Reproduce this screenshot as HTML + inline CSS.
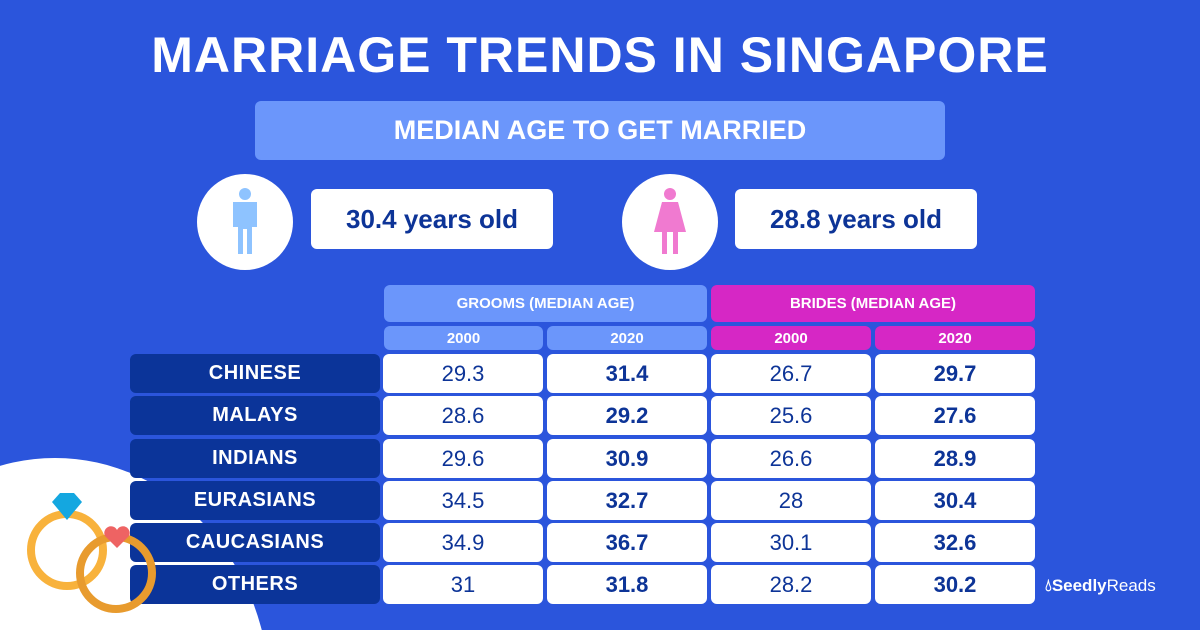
<!DOCTYPE html><html><head><style>
html,body{margin:0;width:1200px;height:630px;overflow:hidden}
#c{position:relative;width:1200px;height:630px;background:#2b55dc;overflow:hidden;font-family:"Liberation Sans",sans-serif;}
.a{position:absolute;box-sizing:border-box;display:flex;align-items:center;justify-content:center}
.t{left:0;width:1200px;top:20px;height:70px;color:#fff;font-size:50px;font-weight:bold;letter-spacing:1px}
.sub{left:255px;top:101px;width:690px;height:59px;background:#6b96fb;border-radius:6px;color:#fff;font-size:27px;font-weight:bold}
.circ{background:#fff;border-radius:50%}
.yb{background:#fff;border-radius:6px;color:#0d3497;font-size:26px;font-weight:bold}
.h{border-radius:6px;color:#fff;font-size:15px;font-weight:bold}
.lab{left:130px;width:250px;height:39px;background:#0b3499;border-radius:6px;color:#fff;font-size:20px;font-weight:bold;letter-spacing:.5px}
.cell{width:160px;height:39px;background:#fff;border-radius:6px;color:#0d3497;font-size:22px}
.b{font-weight:bold}
</style></head><body><div id="c">
<svg style="position:absolute;left:0;top:450px" width="300" height="180"><ellipse cx="55" cy="245" rx="215" ry="237" fill="#fff"/></svg>
<div class="a t">MARRIAGE TRENDS IN SINGAPORE</div>
<div class="a sub">MEDIAN AGE TO GET MARRIED</div>
<div class="a circ" style="left:197px;top:174px;width:96px;height:96px">
<svg width="40" height="70" viewBox="0 0 40 70"><circle cx="20" cy="7" r="6" fill="#8ec3ff"/><path d="M8 15h24v25h-5v27h-5V42h-4v25h-5V40H8z" fill="#8ec3ff"/></svg></div>
<div class="a yb" style="left:311px;top:189px;width:242px;height:60px">30.4 years old</div>
<div class="a circ" style="left:622px;top:174px;width:96px;height:96px">
<svg width="40" height="70" viewBox="0 0 40 70"><circle cx="20" cy="7" r="6" fill="#f07ad0"/><path d="M12 15h16l8 30H28v22h-5V45h-6v22h-5V45H4z" fill="#f07ad0"/></svg></div>
<div class="a yb" style="left:735px;top:189px;width:242px;height:60px">28.8 years old</div>
<div class="a h" style="left:384px;top:285px;width:323px;height:37px;background:#6b96fb">GROOMS (MEDIAN AGE)</div>
<div class="a h" style="left:711px;top:285px;width:324px;height:37px;background:#d627c5">BRIDES (MEDIAN AGE)</div>
<div class="a h" style="left:384px;top:326px;width:159px;height:24px;background:#6b96fb">2000</div>
<div class="a h" style="left:547px;top:326px;width:160px;height:24px;background:#6b96fb">2020</div>
<div class="a h" style="left:711px;top:326px;width:160px;height:24px;background:#d627c5">2000</div>
<div class="a h" style="left:875px;top:326px;width:160px;height:24px;background:#d627c5">2020</div>
<div class="a lab" style="top:354px">CHINESE</div>
<div class="a cell" style="left:383px;top:354px">29.3</div><div class="a cell b" style="left:547px;top:354px">31.4</div><div class="a cell" style="left:711px;top:354px">26.7</div><div class="a cell b" style="left:875px;top:354px">29.7</div>
<div class="a lab" style="top:396px">MALAYS</div>
<div class="a cell" style="left:383px;top:396px">28.6</div><div class="a cell b" style="left:547px;top:396px">29.2</div><div class="a cell" style="left:711px;top:396px">25.6</div><div class="a cell b" style="left:875px;top:396px">27.6</div>
<div class="a lab" style="top:439px">INDIANS</div>
<div class="a cell" style="left:383px;top:439px">29.6</div><div class="a cell b" style="left:547px;top:439px">30.9</div><div class="a cell" style="left:711px;top:439px">26.6</div><div class="a cell b" style="left:875px;top:439px">28.9</div>
<div class="a lab" style="top:481px">EURASIANS</div>
<div class="a cell" style="left:383px;top:481px">34.5</div><div class="a cell b" style="left:547px;top:481px">32.7</div><div class="a cell" style="left:711px;top:481px">28</div><div class="a cell b" style="left:875px;top:481px">30.4</div>
<div class="a lab" style="top:523px">CAUCASIANS</div>
<div class="a cell" style="left:383px;top:523px">34.9</div><div class="a cell b" style="left:547px;top:523px">36.7</div><div class="a cell" style="left:711px;top:523px">30.1</div><div class="a cell b" style="left:875px;top:523px">32.6</div>
<div class="a lab" style="top:565px">OTHERS</div>
<div class="a cell" style="left:383px;top:565px">31</div><div class="a cell b" style="left:547px;top:565px">31.8</div><div class="a cell" style="left:711px;top:565px">28.2</div><div class="a cell b" style="left:875px;top:565px">30.2</div>
<svg style="position:absolute;left:20px;top:490px" width="140" height="130">
<circle cx="47" cy="60" r="36" fill="none" stroke="#f8b23c" stroke-width="8"/>
<circle cx="96" cy="83" r="36" fill="none" stroke="#e89b2e" stroke-width="8"/>
<polygon points="40,3 54,3 62,12 47,30 32,12" fill="#14a7e0"/>
<path d="M97 58l-12-12a6 6 0 0 1 12-6a6 6 0 0 1 12 6z" fill="#ee6363"/>
</svg>
<div style="position:absolute;left:1045px;top:576px;color:#fff;font-size:17px;font-weight:bold">&#x1F4A7;&#xFE0E;<span style="font-size:17px">Seedly</span><span style="font-weight:normal">Reads</span></div>
</div></body></html>
